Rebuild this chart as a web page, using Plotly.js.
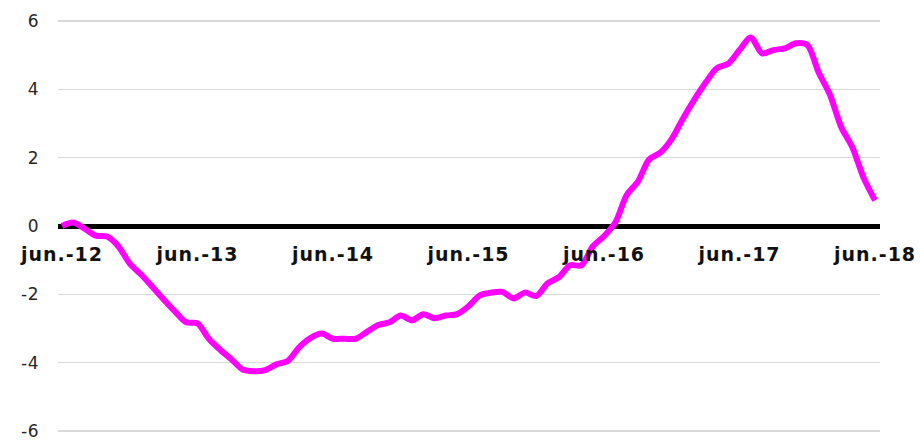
<!DOCTYPE html>
<html>
<head>
<meta charset="utf-8">
<script src="https://cdn.plot.ly/plotly-3.0.1.min.js"></script>
<style>
html,body{margin:0;padding:0;background:#fff;}
#chart{width:920px;height:441px;}
#chart .xtick text{letter-spacing:1px;}
#chart .ytick text{letter-spacing:0.5px;}
</style>
</head>
<body>
<div id="chart"></div>
<script>
// Monthly values, Jun-2012 .. Jun-2018
const values = [
  0.0, 0.1, -0.08, -0.28, -0.31, -0.6, -1.1, -1.42, -1.78, -2.15, -2.5, -2.82,
  -2.85, -3.3, -3.62, -3.9, -4.2, -4.25, -4.22, -4.05, -3.95, -3.55, -3.28, -3.15,
  -3.3, -3.3, -3.3, -3.1, -2.9, -2.82, -2.62, -2.76, -2.58, -2.7, -2.62, -2.58,
  -2.35, -2.03, -1.95, -1.93, -2.12, -1.95, -2.05, -1.68, -1.5, -1.15, -1.15, -0.6,
  -0.3, 0.1, 0.9, 1.3, 1.95, 2.15, 2.55, 3.15, 3.7, 4.2, 4.62, 4.75,
  5.15, 5.52, 5.05, 5.15, 5.2, 5.35, 5.3, 4.5, 3.85, 2.9, 2.3, 1.4,
  0.75
];
const tickLabels = ['jun.-12','jun.-13','jun.-14','jun.-15','jun.-16','jun.-17','jun.-18'];
const yTicks = [-6, -4, -2, 0, 2, 4, 6];

const monthIndex = values.map((_, i) => i);
const tickPos = tickLabels.map((_, i) => i * 12);

const trace = {
  x: monthIndex,
  y: values,
  type: 'scatter',
  mode: 'lines',
  line: {color: '#FF00FF', width: 6, shape: 'spline', smoothing: 0.8},
  hoverinfo: 'skip',
  cliponaxis: false
};

const layout = {
  width: 920,
  height: 441,
  margin: {l: 58, r: 40, t: 20, b: 9},
  paper_bgcolor: '#ffffff',
  plot_bgcolor: '#ffffff',
  showlegend: false,
  xaxis: {
    range: [-0.354, 72.44],
    anchor: 'free',
    position: 0.5,
    showgrid: false,
    zeroline: false,
    showline: false,
    ticks: '',
    tickvals: tickPos,
    ticktext: tickLabels,
    ticklabelstandoff: 15,
    tickfont: {family: 'DejaVu Sans', size: 19, color: '#111111', weight: 'bold'}
  },
  yaxis: {
    range: [-6.03, 6.03],
    tickvals: yTicks,
    ticktext: yTicks.map(String),
    showgrid: true,
    gridcolor: '#d9d9d9',
    gridwidth: 1.5,
    zeroline: true,
    zerolinecolor: '#000000',
    zerolinewidth: 5,
    showline: false,
    ticks: '',
    ticklabelstandoff: 18,
    tickfont: {family: 'DejaVu Sans', size: 17, color: '#262626'}
  }
};

Plotly.newPlot('chart', [trace], layout, {displayModeBar: false, staticPlot: true});
</script>
</body>
</html>
